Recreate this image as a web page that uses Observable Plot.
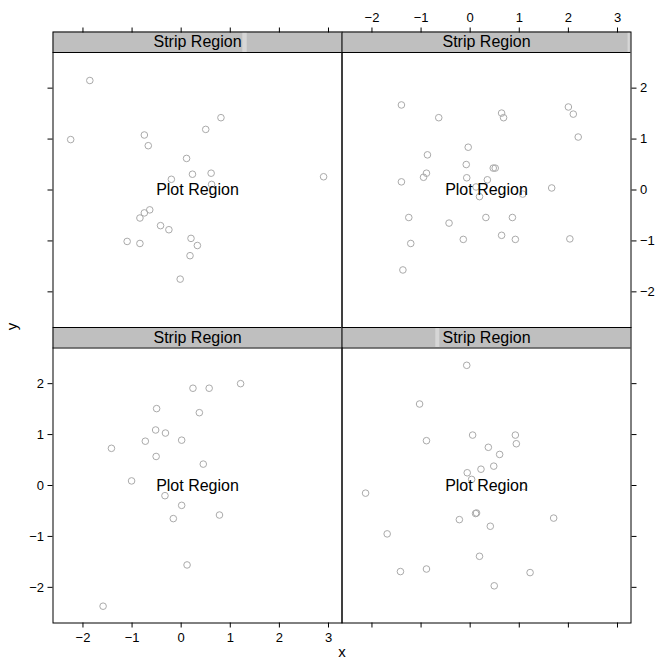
<!DOCTYPE html>
<html>
<head>
<meta charset="utf-8">
<script src="https://cdn.jsdelivr.net/npm/d3@7"></script>
<script src="https://cdn.jsdelivr.net/npm/@observablehq/plot@0.6"></script>
<style>
  html, body { margin: 0; padding: 0; background: white; }
  #chart { position: relative; width: 658px; height: 660px; }
  #chart svg { position: absolute; left: 0; top: 0; }
</style>
</head>
<body>
<div id="chart"></div>
<script>
// ---- data ----
const topLeftX = [-1.86, -2.25, 0.81, 0.50, -0.75, -0.67, 0.11, 0.23, 0.61, -0.20, 0.62, 2.90, -0.64, -0.75, -0.84, -0.42, -0.25, -1.10, -0.84, 0.20, 0.33, 0.18, -0.02];
const topLeftY = [2.15, 0.99, 1.42, 1.19, 1.08, 0.87, 0.62, 0.31, 0.33, 0.21, 0.11, 0.26, -0.39, -0.45, -0.55, -0.70, -0.78, -1.01, -1.05, -0.95, -1.09, -1.29, -1.75];

const topRightX = [-1.40, -0.64, 0.64, 0.68, 2.00, 2.10, 2.20, -0.04, -0.87, -0.08, 0.47, 0.51, -0.89, -0.95, -0.07, 0.35, -1.40, 1.66, 0.19, 1.07, 0.12, -1.25, -0.43, 0.32, 0.86, -0.14, 0.64, 0.92, 2.03, -1.21, -1.37];
const topRightY = [1.67, 1.42, 1.51, 1.42, 1.63, 1.49, 1.04, 0.84, 0.69, 0.50, 0.43, 0.43, 0.33, 0.25, 0.24, 0.20, 0.16, 0.04, -0.13, -0.08, 0.06, -0.54, -0.65, -0.54, -0.54, -0.97, -0.89, -0.97, -0.96, -1.05, -1.57];

const bottomLeftX = [1.21, 0.24, 0.57, -0.50, 0.37, -0.52, -0.32, -0.73, 0.01, -1.42, -0.51, 0.45, -1.01, -0.33, 0.01, -0.16, 0.78, 0.12, -1.59];
const bottomLeftY = [2.00, 1.91, 1.91, 1.51, 1.43, 1.09, 1.03, 0.87, 0.89, 0.73, 0.57, 0.42, 0.09, -0.20, -0.39, -0.65, -0.58, -1.56, -2.37];

const bottomRightX = [-0.07, -1.03, 0.05, 0.92, 0.94, -0.89, 0.37, 0.60, 0.48, 0.22, -0.06, 0.03, -2.13, 1.70, 0.11, 0.13, -0.22, 0.41, -1.69, 0.19, -1.42, -0.89, 1.22, 0.49, 1.09];
const bottomRightY = [2.36, 1.60, 0.99, 0.99, 0.82, 0.88, 0.75, 0.61, 0.38, 0.32, 0.25, 0.12, -0.15, -0.64, -0.55, -0.54, -0.67, -0.80, -0.95, -1.39, -1.69, -1.64, -1.71, -1.97, -0.02];

const xTicks = [-2, -1, 0, 1, 2, 3];
const yTicks = [-2, -1, 0, 1, 2];
const stripLabel = "Strip Region";
const plotLabel = "Plot Region";
const xTitle = "x";
const yTitle = "y";

// ---- layout ----
const W = 658, H = 660;
const X_DOMAIN = [-2.61, 3.275];
const Y_PLOT = [-2.70, 2.70];
const PANEL_W = 289, PANEL_H = 295.5, STRIP_H = 20.5;
const STRIP_TOP = Y_PLOT[1] + STRIP_H * (Y_PLOT[1] - Y_PLOT[0]) / (PANEL_H - STRIP_H);
const xMid = (X_DOMAIN[0] + X_DOMAIN[1]) / 2;
const yMid = (Y_PLOT[0] + Y_PLOT[1]) / 2;
const fmt = d => d3.format("")(d).replace("-", "\u2212");

function panel({xs, ys, left, top, xAnchor, xLabels, yAnchor, yLabels, band, titles}) {
  const pts = xs.map((x, i) => ({x, y: ys[i]}));
  const marks = [
    Plot.rect([0], {x1: X_DOMAIN[0], x2: X_DOMAIN[1], y1: Y_PLOT[1], y2: STRIP_TOP, fill: "#bfbfbf"}),
  ];
  if (band) {
    marks.push(Plot.rect([0], {x1: band[0], x2: band[1], y1: Y_PLOT[1], y2: STRIP_TOP, fill: "#d6d6d6"}));
  }
  marks.push(
    Plot.ruleY([Y_PLOT[1]], {stroke: "black", strokeWidth: 1}),
    Plot.text([stripLabel], {x: xMid, y: (Y_PLOT[1] + STRIP_TOP) / 2, text: d => d, fontSize: 16, fill: "black"}),
    Plot.dot(pts, {x: "x", y: "y", r: 3.3, stroke: "#aaaaaa", strokeWidth: 1, fill: "none"}),
    Plot.text([plotLabel], {x: xMid, y: yMid, text: d => d, fontSize: 16, fill: "black"}),
    Plot.frame({stroke: "black", strokeWidth: 1}),
    Plot.axisX({anchor: xAnchor, ticks: xTicks, tickSize: 5, tickPadding: xAnchor === "bottom" ? 5 : 5, label: null,
      tickFormat: xLabels ? fmt : (() => "")}),
    Plot.axisY({anchor: yAnchor, ticks: yTicks, tickSize: 5, tickPadding: 4, label: null,
      tickFormat: yLabels ? fmt : (() => "")})
  );
  if (titles) {
    marks.push(
      Plot.text([xTitle], {frameAnchor: "bottom-right", dy: 34, text: d => d, fontSize: 15, fill: "black", textAnchor: "middle"}),
      Plot.text([yTitle], {frameAnchor: "top-left", dx: -47, dy: -1, rotate: -90, text: d => d, fontSize: 15, fill: "black", textAnchor: "middle"})
    );
  }
  return Plot.plot({
    width: W, height: H,
    marginLeft: left, marginRight: W - left - PANEL_W,
    marginTop: top, marginBottom: H - top - PANEL_H,
    x: {domain: X_DOMAIN},
    y: {domain: [Y_PLOT[0], STRIP_TOP]},
    style: {background: "transparent", fontFamily: "'Liberation Sans', Arial, Helvetica, sans-serif", fontSize: "13px", color: "black", overflow: "visible"},
    marks
  });
}

const chart = document.getElementById("chart");
chart.append(panel({xs: topLeftX, ys: topLeftY, left: 52.5, top: 31.5, xAnchor: "top", xLabels: false, yAnchor: "left", yLabels: false, band: [1.255, 1.345]}));
chart.append(panel({xs: topRightX, ys: topRightY, left: 341.5, top: 31.5, xAnchor: "top", xLabels: true, yAnchor: "right", yLabels: true, band: [3.215, 3.26]}));
chart.append(panel({xs: bottomLeftX, ys: bottomLeftY, left: 52.5, top: 327, xAnchor: "bottom", xLabels: true, yAnchor: "left", yLabels: true, titles: true}));
chart.append(panel({xs: bottomRightX, ys: bottomRightY, left: 341.5, top: 327, xAnchor: "bottom", xLabels: false, yAnchor: "right", yLabels: false, band: [-0.70, -0.62]}));
</script>
</body>
</html>
